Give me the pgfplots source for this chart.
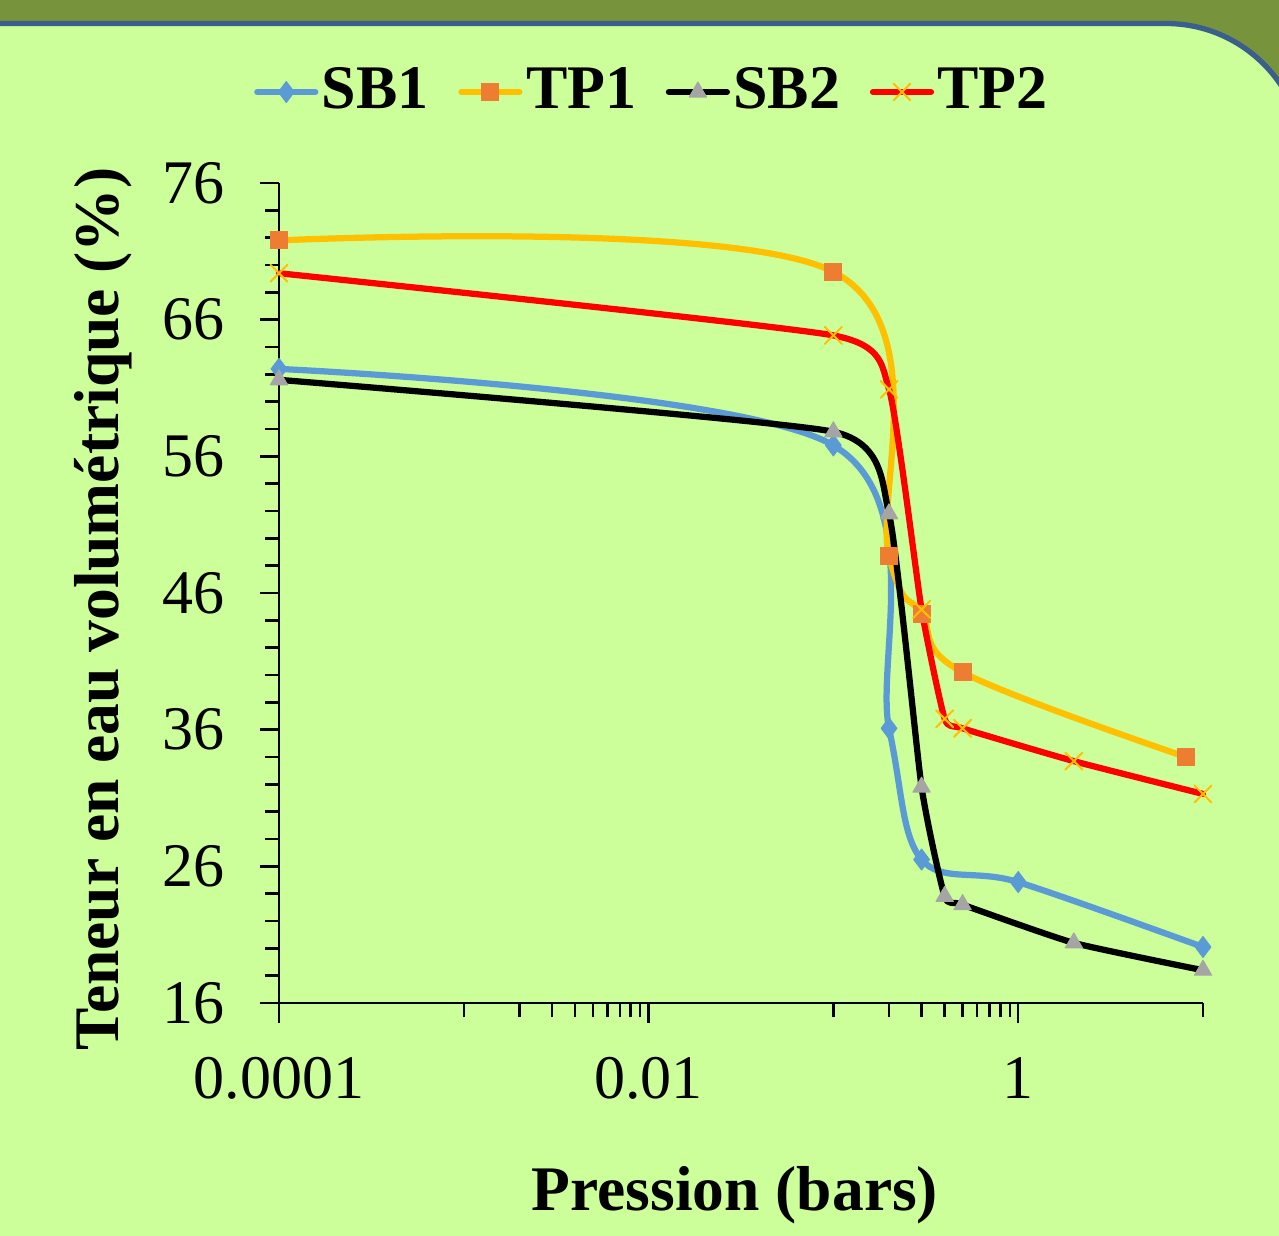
\documentclass[border=0pt]{standalone}
\usepackage{fontspec}
\setmainfont{Liberation Serif}
\usepackage{pgfplots}
\pgfplotsset{compat=1.18}

\definecolor{bggreen}{HTML}{CCFF99}
\definecolor{olivebar}{HTML}{77933C}
\definecolor{bordblue}{HTML}{3A5F8C}
\definecolor{sbblue}{HTML}{5B9BD5}
\definecolor{tpyellow}{HTML}{FFC000}
\definecolor{tporange}{HTML}{ED7D31}
\definecolor{sbgray}{HTML}{A5A5A5}

\begin{document}
\begin{tikzpicture}
% background, in pixel units of the 1279x1235 reference
\begin{scope}[shift={(-55.8pt,200.6pt)}, x=0.2pt, y=-0.2pt]
  \fill[olivebar] (-5,-5) rectangle (1290,1240);
  \fill[bggreen] (-5,23.5) -- (1166,23.5) .. controls (1242.2,23.5) and (1304,85.3) .. (1304,161.5) -- (1304,1240) -- (-5,1240) -- cycle;
  \draw[bordblue, line width=1.06pt] (-5,23.5) -- (1166,23.5) .. controls (1242.2,23.5) and (1304,85.3) .. (1304,161.5) -- (1304,1240);
\end{scope}

\begin{axis}[
  at={(0pt,0pt)}, anchor=south west,
  scale only axis, width=184.8pt, height=164pt,
  xmode=log, xmin=1e-4, xmax=10,
  ymin=16, ymax=76,
  clip=false,
  axis x line*=bottom, axis y line*=left,
  axis line style={-, line width=0.5pt, black},
  tick align=outside,
  major tick length=3.9pt, minor tick length=2.8pt,
  every tick/.style={black, line width=0.5pt},
  xtick={1e-4,1e-2,1},
  xticklabels={0.0001,0.01,1},
  minor xtick={0.001,0.002,0.003,0.004,0.005,0.006,0.007,0.008,0.009,0.1,0.2,0.3,0.4,0.5,0.6,0.7,0.8,0.9,10},
  ytick={16,26,...,76},
  minor y tick num=4,
  /pgf/number format/assume math mode=true,
  ticklabel style={font=\fontsize{12.4}{14}\selectfont},
  xticklabel style={yshift=-3.4pt},
  yticklabel style={xshift=-3.5pt},
  xlabel={Pression (bars)},
  ylabel={Teneur en eau volumétrique (\%)},
  label style={font=\fontsize{12.7}{15}\selectfont\bfseries},
  xlabel style={at={(axis description cs:0.4935,-0.2524)}, anchor=base},
  ylabel style={at={(axis description cs:-0.1742,0.4805)}, anchor=base},
  legend columns=4,
  legend style={at={(0.4026,1.111)}, anchor=center, draw=none, fill=none,
    font=\fontsize{12.4}{14}\selectfont\bfseries,
    nodes={inner xsep=0pt, inner ysep=0.5pt},
    /tikz/every odd column/.append style={column sep=0.7pt},
    /tikz/every even column/.append style={column sep=5.9pt}},
  legend image code/.code={\draw[mark repeat=2, mark phase=2, #1] plot[sharp plot] coordinates {(0pt,0pt) (5.8pt,0pt) (11.6pt,0pt)};},
  every axis plot/.append style={line width=1.25pt, line cap=round, line join=round, smooth, tension=0.5},
]

\addplot[sbblue, tension=0.55, mark=diamond*, mark size=2.1pt,
  mark options={solid, fill=sbblue, draw=sbblue, line width=0.2pt}]
  coordinates {(0.0001,62.4) (0.1,56.8) (0.2,36.1) (0.3,26.5) (1,24.85) (10,20.1)};
\addlegendentry{SB1}

\addplot[tpyellow, tension=0.6, mark=square*, mark size=1.7pt,
  mark options={solid, fill=tporange, draw=tporange, line width=0.2pt}]
  coordinates {(0.0001,71.8) (0.1,69.5) (0.2,48.7) (0.3,44.5) (0.5,40.2) (8.1,34.0)};
\addlegendentry{TP1}

\addplot[black, tension=0.3, mark=triangle*, mark size=2pt,
  mark options={solid, fill=sbgray, draw=sbgray, line width=0.2pt}]
  coordinates {(0.0001,61.6) (0.1,57.8) (0.2,51.8) (0.3,31.8) (0.4,23.8) (0.5,23.2) (2,20.4) (10,18.4)};
\addlegendentry{SB2}

\addplot[red, tension=0.3, mark=x, mark size=2.4pt,
  mark options={solid, draw=tpyellow, line width=0.4pt}]
  coordinates {(0.0001,69.4) (0.1,64.85) (0.2,60.9) (0.3,44.8) (0.4,36.8) (0.5,36.1) (2,33.7) (10,31.3)};
\addlegendentry{TP2}

\end{axis}
\pgfresetboundingbox
\useasboundingbox (-55.8pt,-46.4pt) rectangle (200pt,200.6pt);
\end{tikzpicture}
\end{document}
